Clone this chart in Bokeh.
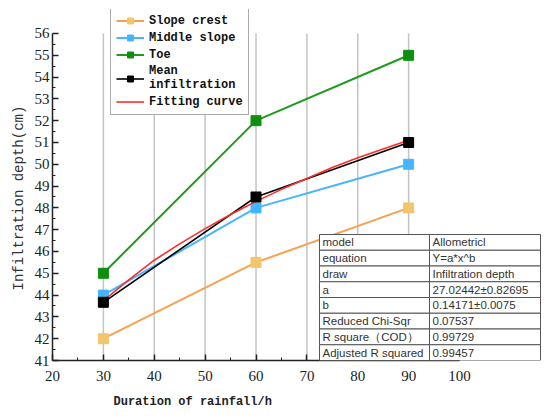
from bokeh.plotting import figure
from bokeh.models import Legend, LegendItem, Label, BoxAnnotation, FixedTicker, Title
from bokeh.embed import file_html
from bokeh.resources import INLINE

# ---- data ----
duration = [30, 60, 90]
slope_crest = [42.0, 45.5, 48.0]
middle_slope = [44.0, 48.0, 50.0]
toe = [45.0, 52.0, 55.0]
mean_infiltration = [43.67, 48.5, 51.0]

fit_x = [30, 35, 40, 45, 50, 55, 60, 65, 70, 75, 80, 85, 90]
fit_y = [43.75, 44.7, 45.6, 46.35, 47.05, 47.7, 48.3, 48.85, 49.35, 49.85, 50.3, 50.7, 51.1]

x_ticks = [20, 30, 40, 50, 60, 70, 80, 90, 100]
x_minor = [25, 35, 45, 55, 65, 75, 85, 95]
y_ticks = list(range(41, 57))
y_minor = [v + 0.5 for v in range(41, 56)]

x_title = "Duration of rainfall/h"
y_title = "Infiltration depth(cm)"

table_keys = ["model", "equation", "draw", "a", "b", "Reduced Chi-Sqr",
              "R square\uff08COD\uff09", "Adjusted R squared"]
table_vals = ["Allometricl", "Y=a*x^b", "Infiltration depth", "27.02442\u00b10.82695",
              "0.14171\u00b10.0075", "0.07537", "0.99729", "0.99457"]

# ---- figure ----
# the frame is extended above and to the right so the legend and the table fit inside it;
# the axes themselves are bounded to the data ranges
p = figure(width=550, height=419, x_range=(20, 116.9), y_range=(41, 57.1),
           output_backend="svg", toolbar_location=None,
           min_border_left=52, min_border_right=5, min_border_top=9, min_border_bottom=59)
p.outline_line_color = None
p.background_fill_color = "white"
p.border_fill_color = "white"

p.xaxis.ticker = FixedTicker(ticks=x_ticks, minor_ticks=x_minor)
p.yaxis.ticker = FixedTicker(ticks=y_ticks, minor_ticks=y_minor)
p.xaxis.bounds = (x_ticks[0], x_ticks[-1])
p.yaxis.bounds = (y_ticks[0], y_ticks[-1])

for ax in (p.xaxis[0], p.yaxis[0]):
    ax.axis_line_color = "#222222"
    ax.axis_line_width = 1.5
    ax.major_tick_line_color = "#222222"
    ax.minor_tick_line_color = "#222222"
    ax.major_tick_line_width = 1.5
    ax.major_tick_in = 6
    ax.major_tick_out = 0
    ax.minor_tick_in = 3
    ax.minor_tick_out = 0
    ax.major_label_text_font = "Liberation Serif"
    ax.major_label_text_font_size = "15px"
    ax.major_label_text_color = "#222222"

p.xaxis.major_label_standoff = 10
p.yaxis.major_label_standoff = 3

p.xgrid.visible = False
p.ygrid.visible = False

# axis titles as side-panel titles so they can be positioned along the bounded axes
xt = Title(text=x_title, align="left", offset=61, standoff=19,
           text_font="Liberation Mono", text_font_style="bold", text_font_size="12px",
           text_color="#222222")
p.add_layout(xt, "below")
yt = Title(text=y_title, align="left", offset=70, standoff=9,
           text_font="Liberation Mono", text_font_style="normal", text_font_size="14px",
           text_color="#333333")
p.add_layout(yt, "left")

# vertical grid lines at the inner x ticks, spanning the y axis range
gx = x_ticks[1:-1]
p.segment(x0=gx, y0=[y_ticks[0]] * len(gx), x1=gx, y1=[y_ticks[-1]] * len(gx),
          line_color="#c4c4c4", line_width=1.5)

# ---- series ----
c_crest_line, c_crest_mark = "#f7a050", "#f2c66c"
c_mid = "#45b5ff"
c_toe_line, c_toe_mark = "#1e9a1e", "#0f8f0f"

l1 = p.line(duration, slope_crest, line_color=c_crest_line, line_width=2)
m1 = p.scatter(duration, slope_crest, marker="square", size=10, fill_color=c_crest_mark, line_color=c_crest_mark)
l2 = p.line(duration, middle_slope, line_color=c_mid, line_width=2)
m2 = p.scatter(duration, middle_slope, marker="square", size=10, fill_color=c_mid, line_color=c_mid)
l3 = p.line(duration, toe, line_color=c_toe_line, line_width=2)
m3 = p.scatter(duration, toe, marker="square", size=10, fill_color=c_toe_mark, line_color=c_toe_mark)
l4 = p.line(duration, mean_infiltration, line_color="black", line_width=1.6)
l5 = p.line(fit_x, fit_y, line_color="#ff2a2a", line_width=1.6)
m4 = p.scatter(duration, mean_infiltration, marker="square", size=10, fill_color="black", line_color="black")

legend = Legend(items=[
    LegendItem(label="Slope crest", renderers=[l1, m1]),
    LegendItem(label="Middle slope", renderers=[l2, m2]),
    LegendItem(label="Toe", renderers=[l3, m3]),
    LegendItem(label="Mean\ninfiltration", renderers=[l4, m4]),
    LegendItem(label="Fitting curve", renderers=[l5]),
], location=(58, 245))
legend.label_text_font = "Liberation Mono"
legend.label_text_font_style = "bold"
legend.label_text_font_size = "12px"
legend.label_text_color = "#111111"
legend.glyph_width = 28
legend.glyph_height = 15
legend.label_height = 15
legend.spacing = 2
legend.padding = 5
legend.margin = 0
legend.border_line_color = "#555555"
legend.border_line_width = 1.2
legend.background_fill_alpha = 1
p.add_layout(legend, "center")

# ---- fit-result table (screen units relative to the frame's bottom-left) ----
t_left, t_mid, t_right = 267, 377, 488
t_top, row_h = 126, 15.75
for i, (k, v) in enumerate(zip(table_keys, table_vals)):
    top = t_top - i * row_h
    bot = top - row_h
    for (lft, rgt) in ((t_left, t_mid), (t_mid, t_right)):
        p.add_layout(BoxAnnotation(left=lft, right=rgt, top=top, bottom=bot,
                                   left_units="screen", right_units="screen",
                                   top_units="screen", bottom_units="screen",
                                   fill_color="white", fill_alpha=1,
                                   line_color="#555555", line_width=1, line_alpha=1))
    for txt, xx in ((k, t_left + 3), (v, t_mid + 3)):
        p.add_layout(Label(x=xx, y=(top + bot) / 2, x_units="screen", y_units="screen",
                           text=txt, text_font="Liberation Sans", text_font_size="11.5px",
                           text_color="#333333", text_baseline="middle", text_align="left"))

open("out.html", "w").write(file_html(p, INLINE))
